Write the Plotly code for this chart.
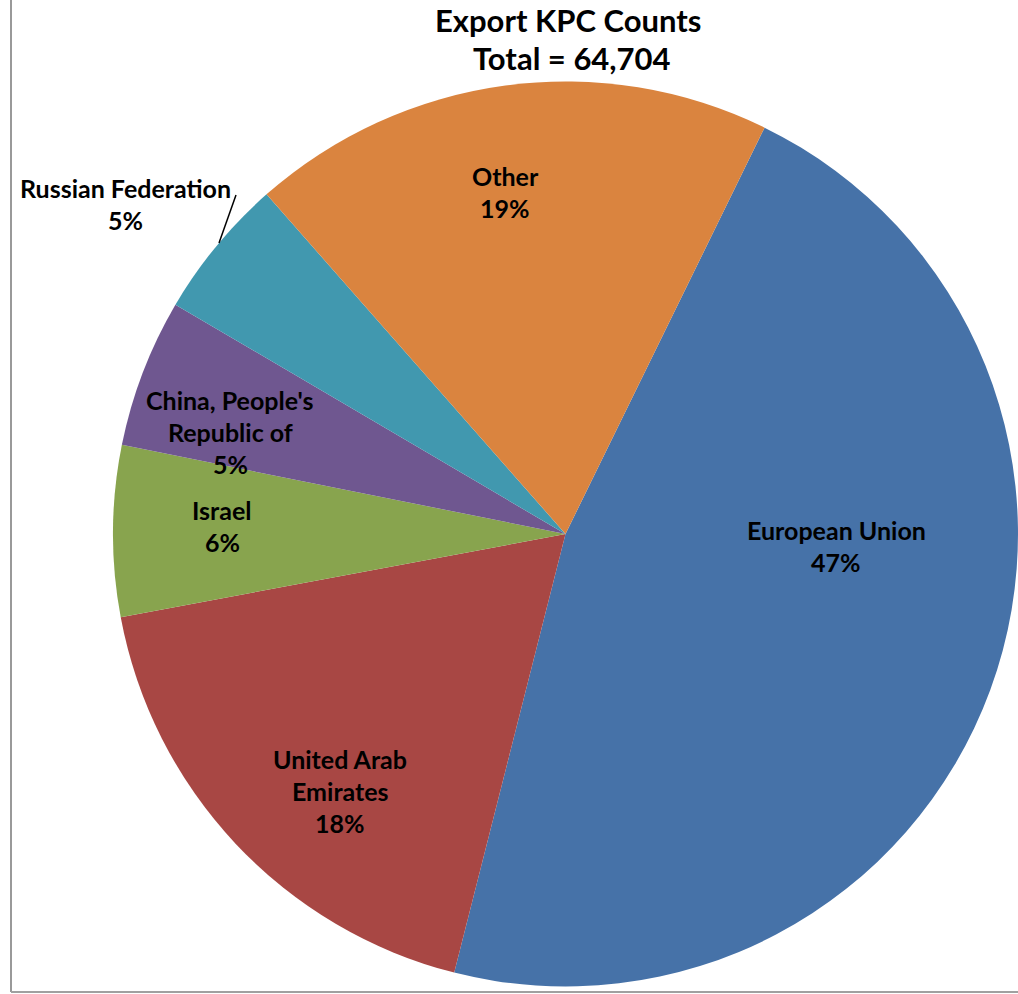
import plotly.graph_objects as go

W, H = 1018, 994

# ---- data ----
labels = ["European Union", "United Arab Emirates", "Israel",
          "China, People's Republic of", "Russian Federation", "Other"]
label_lines = [["European Union"], ["United Arab", "Emirates"], ["Israel"],
               ["China, People's", "Republic of"], ["Russian Federation"], ["Other"]]
counts = [30220, 11710, 3950, 3430, 3270, 12124]
colors = ["#4672A8", "#A84744", "#88A44E", "#6F5790", "#4198AF", "#DA843F"]
title_lines = ["Export KPC Counts", "Total = 64,704"]

# label placement in pixels: (centre x, first-line centre y)
label_pos = [(836, 530), (340, 759), (222, 510), (230, 400), (125, 188), (505, 176)]
LINE = 32

total = sum(counts)
pcts = [round(100 * c / total) for c in counts]


def px(x):
    return x / W


def py(y):
    return 1 - y / H


fig = go.Figure()
fig.add_trace(go.Pie(
    labels=labels,
    values=counts,
    marker=dict(colors=colors, line=dict(width=0)),
    sort=False,
    direction="clockwise",
    rotation=26.1,
    textinfo="none",
    hoverinfo="label+value+percent",
    domain=dict(x=[113 / W, 1.0], y=[py(986.5), py(81.5)]),
    showlegend=False,
))

annotations = []
for lines, p, (x, y0) in zip(label_lines, pcts, label_pos):
    for i, t in enumerate(lines + [f"{p}%"]):
        annotations.append(dict(
            x=px(x), y=py(y0 + i * LINE), xref="paper", yref="paper",
            text=f"<b>{t}</b>", showarrow=False,
            font=dict(family="Lato", size=25, color="#000000"),
            xanchor="center", yanchor="middle",
        ))

for i, t in enumerate(title_lines):
    annotations.append(dict(
        x=px(568 + 4 * i), y=py(20 + 38 * i), xref="paper", yref="paper",
        text=f"<b>{t}</b>", showarrow=False,
        font=dict(family="Lato", size=31, color="#000000"),
        xanchor="center", yanchor="middle", borderpad=0,
    ))

shapes = [
    # leader line for Russian Federation
    dict(type="line", xref="paper", yref="paper",
         x0=px(236), y0=py(195), x1=px(219), y1=py(243),
         line=dict(color="#000000", width=1.5)),
    # chart frame (left and bottom edge)
    dict(type="line", xref="paper", yref="paper",
         x0=px(11), y0=py(0), x1=px(11), y1=py(992),
         line=dict(color="#999999", width=2)),
    dict(type="line", xref="paper", yref="paper",
         x0=px(11), y0=py(992), x1=1, y1=py(992),
         line=dict(color="#A0A0A0", width=2)),
]

fig.update_layout(
    width=W, height=H,
    margin=dict(l=0, r=0, t=0, b=0),
    paper_bgcolor="#FFFFFF",
    plot_bgcolor="#FFFFFF",
    annotations=annotations,
    shapes=shapes,
)

fig.write_html("out.html", config={"displayModeBar": False},
               post_script="document.body.style.margin='0px';document.body.style.overflow='hidden';")
